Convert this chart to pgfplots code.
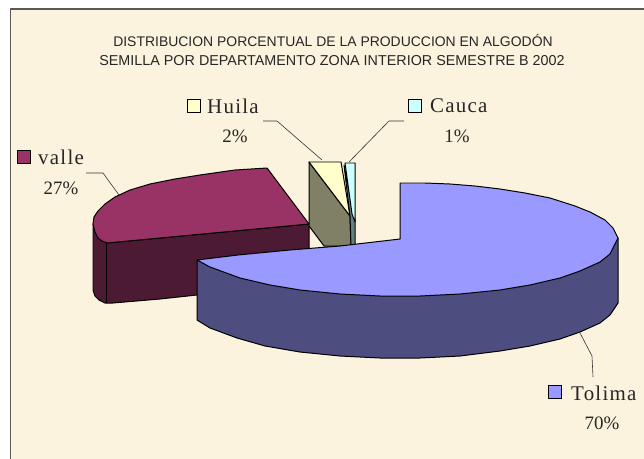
\documentclass[border=0pt]{standalone}
\usepackage{pgfplots}
\pgfplotsset{compat=1.18}
\usepackage{fontspec}
\setmainfont{Liberation Serif}
\newfontfamily\ttl{Liberation Sans}
\newfontfamily\wrd[LetterSpace=6]{Liberation Serif}
\definecolor{bgc}{HTML}{FCF3DE}
\definecolor{tol}{HTML}{9999FF}
\definecolor{tolS}{HTML}{4D4D80}
\definecolor{val}{HTML}{993366}
\definecolor{valS}{HTML}{4D1A33}
\definecolor{hui}{HTML}{FFFFCC}
\definecolor{huiS}{HTML}{808066}
\definecolor{cau}{HTML}{CCFFFF}
\definecolor{cauS}{HTML}{668080}
\tikzset{
  lbl/.style={font=\wrd\fontsize{21}{23}\selectfont,inner sep=0pt,text=black!85},
  pct/.style={font=\fontsize{19}{21}\selectfont,inner sep=0pt,text=black!85},
  ttlst/.style={font=\ttl\fontsize{14}{16}\selectfont,inner sep=0pt,text=black!85},
  ttlb/.style={font=\ttl\fontsize{14.4}{16}\selectfont,inner sep=0pt,text=black!85},
  edge/.style={draw=black,line width=1pt},
  lead/.style={draw=black!80,line width=0.6pt},
}
\begin{document}
\begin{tikzpicture}
\begin{axis}[
  width=644bp,height=459bp,scale only axis,
  xmin=0,xmax=644,ymin=0,ymax=459,y dir=reverse,
  hide axis,
  every axis plot/.append style={line join=round},
]
% background and frame
\addplot[fill=white,draw=none] coordinates {(0,0) (644,0) (644,459) (0,459)} --cycle;
\addplot[fill=bgc,draw=none] coordinates {(10,9) (644,9) (644,459) (10,459)} --cycle;
\addplot[draw=black!65,line width=1.1pt] coordinates {(10.5,459) (10.5,9) (644,9)};

% valle
\addplot[fill=valS,edge] coordinates {(93,224) (93,290) (95,296) (99,300) (105,303) (113,303) (160,299) (197,295) (309,270) (309,224) (107,243)} --cycle;
\addplot[edge] coordinates {(106,243) (106,303)};
\addplot[fill=val,edge] coordinates {(267,168) (235,170) (200,175) (175,179) (150,184) (130,190) (115,197) (105,204) (98,211) (94,217) (93,224) (95,232) (98,238) (102,241) (107,243) (309,224)} --cycle;

% Huila
\addplot[fill=huiS,edge] coordinates {(309,162) (350,216) (351,246) (324,246) (309,226)} --cycle;
\addplot[fill=hui,edge] coordinates {(309,162) (341,162) (350,216)} --cycle;
% Cauca
\addplot[fill=cauS,edge] coordinates {(344,165) (350,216) (351,246) (355,246) (355,220)} --cycle;
\addplot[fill=cau,edge] coordinates {(345,163) (355,163) (355,222) (352,214)} --cycle;

% Tolima
\addplot[fill=tolS,edge] coordinates {(197,260) (197,320) (210,328) (237,338) (265,346) (300,352) (340,356) (380,358) (420,358) (460,356) (500,351) (530,346) (560,339) (580,332) (600,323) (610,315) (618,303) (618,238)} --cycle;
\addplot[fill=tol,edge] coordinates {(400,183) (425,183) (450,184) (475,186) (500,189) (525,193) (550,198) (575,206) (590,212) (605,220) (613,228) (618,238) (610,254) (600,262) (580,271) (560,278) (530,285) (500,290) (460,294) (420,296) (380,296) (340,294) (300,290) (270,285) (240,278) (210,267) (197,260) (238,255) (290,250) (340,246) (400,239)} --cycle;

% leader lines
\addplot[lead] coordinates {(263,121) (277,121) (322,160)};
\addplot[lead] coordinates {(404,121) (389,121) (349,162)};
\addplot[lead] coordinates {(86,173) (103,173) (119,195)};
\addplot[lead] coordinates {(580,333) (592,356) (593,377)};

% legend keys
\addplot[only marks,mark=square*,mark size=6.5bp,mark options={fill=hui,draw=black,line width=0.8pt}] coordinates {(194,105.5)};
\addplot[only marks,mark=square*,mark size=6.5bp,mark options={fill=cau,draw=black,line width=0.8pt}] coordinates {(415,105.5)};
\addplot[only marks,mark=square*,mark size=6.5bp,mark options={fill=val,draw=black,line width=0.8pt}] coordinates {(24,157)};
\addplot[only marks,mark=square*,mark size=6.5bp,mark options={fill=tol,draw=black,line width=0.8pt}] coordinates {(555,392)};

% texts
\node[ttlst,anchor=center] at (axis cs:333,41) {DISTRIBUCION PORCENTUAL DE LA PRODUCCION EN ALGODÓN};
\node[ttlb,anchor=center] at (axis cs:332,61) {SEMILLA POR DEPARTAMENTO ZONA INTERIOR SEMESTRE B 2002};
\node[lbl,anchor=west] at (axis cs:207,106) {Huila};
\node[pct,anchor=center] at (axis cs:235,136) {2\%};
\node[lbl,anchor=west] at (axis cs:430,106) {Cauca};
\node[pct,anchor=center] at (axis cs:457,136) {1\%};
\node[lbl,anchor=west] at (axis cs:38,157) {valle};
\node[pct,anchor=center] at (axis cs:61,188) {27\%};
\node[lbl,anchor=west] at (axis cs:571,393) {Tolima};
\node[pct,anchor=center] at (axis cs:602,423) {70\%};
\end{axis}
\end{tikzpicture}
\end{document}
